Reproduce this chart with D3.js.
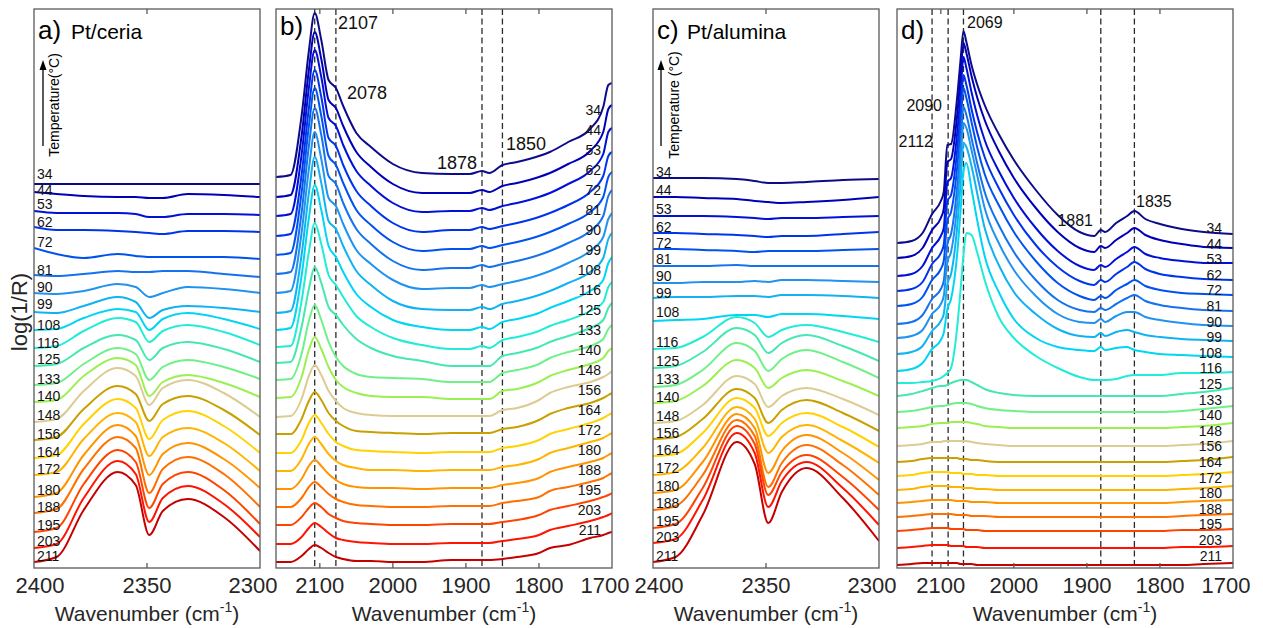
<!DOCTYPE html>
<html>
<head>
<meta charset="utf-8">
<script src="https://cdn.jsdelivr.net/npm/d3@7"></script>
<style>
  body { margin: 0; background: #fff; }
  svg { font-family: Arial, "Liberation Sans", sans-serif; }
</style>
</head>
<body>
<svg id="chart" width="1263" height="628"></svg>
<script>
// temperatures (°C), one spectrum each, top to bottom
const temps = [34, 44, 53, 62, 72, 81, 90, 99, 108, 116, 125, 133, 140, 148, 156, 164, 172, 180, 188, 195, 203, 211];
const colors = ['#0c0c8a', '#0000b8', '#0010d8', '#0034ec', '#0052f0', '#1472ee', '#2092f0', '#10b2f2', '#00d6f4', '#20ecd8',
  '#44e8b0', '#70f088', '#9af050', '#dccc94', '#c8a000', '#ffd200', '#ffb400', '#ff9400', '#ff7000', '#ff4400', '#ff1400', '#c40000'];

// CO2 region (panels a and c), offset log(1/R) values
const wnCO2 = [2400, 2390, 2378, 2363, 2355, 2349, 2343, 2332, 2316, 2300];
const ceriaCO2 = [
  [384, 384, 384, 384, 384, 384, 384, 384, 384, 384],
  [376, 374, 372, 371, 371, 370, 370, 374, 373, 371],
  [357, 355, 355, 355, 354, 351, 351, 354, 354, 353],
  [341, 338, 338, 337, 336, 335, 334, 337, 337, 336],
  [320, 314, 310, 314, 312, 311, 311, 311, 311, 309],
  [293, 292, 294, 297, 296, 296, 297, 297, 294, 291],
  [275, 274, 277, 284, 281, 271, 275, 281, 279, 275],
  [256, 255, 262, 271, 266, 250, 258, 262, 260, 256],
  [238, 239, 250, 259, 256, 238, 249, 255, 249, 239],
  [220, 222, 237, 250, 246, 226, 237, 243, 236, 223],
  [202, 204, 220, 233, 228, 208, 220, 226, 219, 206],
  [183, 185, 204, 220, 214, 188, 201, 208, 201, 189],
  [166, 168, 192, 210, 203, 172, 186, 193, 185, 171],
  [146, 149, 177, 200, 192, 163, 180, 188, 175, 151],
  [128, 131, 159, 182, 174, 147, 164, 172, 158, 133],
  [110, 113, 144, 169, 160, 129, 148, 157, 142, 115],
  [93, 96, 129, 155, 146, 112, 131, 140, 125, 97],
  [71, 75, 113, 143, 132, 93, 114, 125, 109, 80],
  [55, 59, 99, 131, 120, 75, 99, 111, 94, 61],
  [36, 40, 84, 118, 106, 60, 84, 96, 78, 44],
  [20, 24, 70, 107, 94, 46, 70, 82, 64, 31],
  [6, 11, 58, 96, 83, 33, 57, 69, 51, 17]
];
const aluminaCO2 = [
  [390, 390, 390, 389, 387, 385, 385, 386, 388, 389],
  [371, 371, 370, 369, 367, 366, 365, 366, 368, 371],
  [352, 352, 352, 351, 350, 349, 350, 350, 351, 352],
  [335, 335, 334, 333, 332, 331, 332, 332, 334, 336],
  [319, 319, 318, 317, 316, 317, 317, 317, 318, 319],
  [302, 302, 302, 303, 302, 302, 302, 302, 302, 302],
  [285, 285, 286, 286, 287, 286, 288, 288, 287, 286],
  [270, 271, 271, 272, 272, 271, 273, 273, 272, 270],
  [247, 248, 249, 253, 253, 251, 254, 254, 252, 249],
  [219, 220, 231, 251, 245, 231, 238, 243, 236, 226],
  [200, 202, 216, 240, 233, 215, 225, 233, 222, 207],
  [181, 183, 198, 225, 217, 197, 209, 218, 206, 190],
  [165, 167, 182, 208, 200, 180, 190, 198, 187, 172],
  [145, 147, 163, 192, 184, 161, 172, 180, 169, 153],
  [129, 131, 149, 179, 170, 145, 158, 168, 155, 137],
  [112, 114, 135, 170, 160, 132, 145, 155, 141, 121],
  [93, 96, 120, 161, 149, 115, 131, 143, 127, 105],
  [75, 78, 106, 154, 140, 95, 117, 133, 115, 88],
  [58, 62, 93, 148, 132, 81, 105, 123, 103, 73],
  [40, 44, 80, 142, 124, 73, 96, 113, 91, 58],
  [25, 29, 68, 135, 115, 61, 87, 106, 80, 43],
  [6, 11, 53, 126, 104, 45, 76, 100, 70, 27]
];

// CO region on Pt/ceria (panel b)
const wnCOb = [2160, 2140, 2125, 2115, 2107, 2098, 2088, 2078, 2068, 2050, 2030, 2000, 1960, 1920, 1895, 1878, 1868, 1850, 1830, 1800, 1785, 1760, 1730, 1712, 1705, 1700];
const ceriaCO = [
  [391, 393, 452, 517, 555, 528, 488, 480, 462, 435, 421, 404, 395, 394, 394, 397, 395, 403, 406, 412, 416, 426, 439, 461, 483, 485],
  [371, 373, 432, 498, 536, 509, 468, 460, 442, 416, 401, 384, 375, 375, 375, 378, 376, 382, 385, 391, 395, 404, 417, 436, 459, 463],
  [352, 354, 413, 480, 518, 491, 450, 442, 423, 397, 382, 365, 356, 357, 357, 360, 358, 362, 365, 371, 375, 384, 397, 414, 436, 440],
  [332, 334, 393, 460, 498, 471, 430, 422, 403, 377, 362, 345, 336, 338, 338, 341, 339, 342, 345, 351, 355, 363, 376, 392, 412, 416],
  [313, 315, 375, 442, 480, 452, 412, 403, 385, 358, 343, 326, 317, 319, 319, 322, 320, 323, 326, 332, 336, 344, 356, 371, 391, 396],
  [294, 296, 355, 422, 460, 433, 392, 384, 365, 339, 324, 307, 298, 300, 300, 303, 301, 304, 307, 313, 317, 325, 337, 352, 372, 378],
  [275, 277, 335, 399, 436, 409, 370, 362, 344, 318, 304, 288, 279, 280, 280, 283, 281, 284, 287, 293, 297, 305, 317, 331, 349, 355],
  [255, 257, 313, 375, 411, 385, 347, 339, 322, 297, 283, 267, 259, 258, 258, 261, 259, 264, 267, 273, 277, 285, 296, 310, 329, 335],
  [238, 240, 292, 350, 383, 358, 322, 311, 296, 274, 261, 248, 241, 238, 238, 241, 239, 246, 249, 255, 260, 267, 277, 288, 305, 311],
  [221, 222, 267, 316, 345, 324, 293, 283, 271, 252, 241, 230, 223, 219, 219, 222, 220, 228, 231, 237, 242, 248, 257, 266, 281, 286],
  [205, 206, 241, 279, 301, 285, 261, 253, 243, 229, 220, 212, 207, 202, 202, 202, 202, 212, 215, 221, 226, 232, 240, 248, 260, 265],
  [188, 189, 214, 247, 263, 248, 226, 211, 202, 194, 191, 190, 189, 186, 186, 186, 186, 195, 198, 204, 210, 216, 222, 229, 239, 243],
  [170, 171, 191, 218, 231, 219, 201, 188, 181, 175, 172, 171, 171, 169, 169, 169, 169, 177, 179, 186, 192, 198, 204, 210, 217, 220],
  [151, 152, 169, 192, 203, 193, 177, 167, 160, 155, 153, 152, 152, 152, 152, 152, 152, 158, 160, 168, 175, 181, 186, 191, 194, 197],
  [134, 134, 149, 167, 176, 168, 155, 147, 142, 137, 136, 135, 134, 135, 135, 135, 135, 139, 141, 148, 154, 160, 165, 170, 173, 175],
  [115, 115, 128, 145, 153, 145, 134, 126, 122, 118, 117, 116, 115, 116, 116, 116, 116, 120, 122, 128, 134, 139, 145, 150, 153, 155],
  [97, 97, 109, 124, 131, 124, 114, 107, 103, 100, 98, 98, 97, 98, 98, 98, 98, 101, 103, 109, 115, 120, 126, 130, 133, 135],
  [79, 79, 89, 102, 108, 102, 94, 88, 84, 81, 80, 80, 79, 80, 80, 80, 80, 83, 85, 90, 96, 101, 106, 110, 113, 115],
  [61, 61, 70, 81, 86, 81, 74, 69, 66, 63, 62, 61, 61, 62, 62, 62, 62, 65, 67, 71, 77, 81, 86, 90, 93, 95],
  [43, 43, 51, 60, 65, 61, 54, 50, 47, 45, 44, 43, 43, 44, 44, 44, 44, 46, 48, 53, 58, 62, 67, 71, 73, 75],
  [24, 24, 31, 40, 45, 41, 35, 30, 28, 26, 25, 24, 24, 25, 25, 25, 25, 27, 29, 33, 38, 42, 47, 51, 53, 55],
  [6, 6, 12, 19, 23, 20, 15, 11, 9, 7, 7, 6, 6, 8, 8, 8, 8, 9, 11, 15, 20, 23, 30, 33, 35, 36]
];

// CO region on Pt/alumina (panel d): stacking offsets + spectra
const wnCOd = [2160, 2140, 2125, 2112, 2100, 2096, 2091, 2086, 2078, 2073, 2069, 2065, 2058, 2050, 2040, 2020, 2000, 1970, 1940, 1910, 1890, 1881, 1875, 1860, 1845, 1835, 1820, 1800, 1770, 1740, 1700];
const aluminaOffsets = [325, 310, 292, 277, 262, 244, 230, 214, 197, 185, 172, 156, 140, 122, 106, 92, 78, 65, 51, 37, 20, 3];
const aluminaCO = [
  [0, 2, 10, 29, 42, 51, 98, 99, 143, 183, 212, 201, 178, 158, 138, 108, 83, 53, 28, 11, 7, 13, 11, 20, 27, 32, 24, 19, 14, 11, 9],
  [0, 2, 10, 28, 40, 49, 96, 99, 140, 182, 215, 205, 182, 160, 138, 106, 80, 50, 26, 10, 6, 12, 10, 18, 25, 30, 23, 18, 14, 11, 10],
  [0, 2, 10, 28, 40, 48, 94, 98, 140, 182, 219, 208, 184, 160, 136, 104, 78, 48, 25, 10, 6, 11, 9, 17, 24, 29, 22, 18, 15, 13, 13],
  [0, 2, 9, 27, 38, 46, 90, 96, 138, 180, 216, 206, 182, 158, 134, 102, 76, 46, 24, 10, 6, 11, 9, 17, 24, 29, 22, 17, 14, 12, 11],
  [0, 2, 9, 26, 37, 45, 86, 94, 136, 180, 218, 208, 184, 158, 132, 100, 74, 45, 23, 10, 6, 10, 8, 16, 22, 26, 20, 16, 13, 12, 11],
  [0, 2, 9, 25, 35, 43, 80, 90, 134, 178, 217, 209, 186, 160, 132, 98, 72, 44, 24, 14, 12, 16, 14, 20, 26, 29, 23, 19, 16, 14, 13],
  [0, 2, 8, 24, 34, 42, 76, 86, 130, 176, 215, 210, 188, 162, 130, 94, 68, 42, 24, 16, 15, 19, 16, 22, 26, 26, 21, 18, 15, 13, 12],
  [0, 2, 8, 23, 33, 40, 70, 80, 124, 170, 211, 207, 188, 160, 126, 88, 62, 40, 25, 18, 17, 21, 18, 22, 24, 22, 19, 17, 15, 14, 13],
  [0, 2, 8, 22, 31, 38, 62, 72, 114, 160, 200, 208, 182, 150, 115, 78, 52, 33, 24, 21, 20, 24, 21, 23, 24, 21, 19, 17, 16, 15, 14],
  [0, 0, 1, 2, 5, 7, 10, 15, 53, 93, 128, 150, 148, 130, 103, 65, 45, 27, 15, 6, 3, 3, 3, 4, 7, 8, 8, 8, 10, 10, 11],
  [0, 2, 5, 8, 10, 10, 11, 13, 15, 16, 16, 16, 14, 11, 7, 3, 1, 0, 0, 0, 0, 0, 0, 0, 0, 0, 0, 0, 2, 4, 8],
  [0, 1, 3, 5, 6, 6, 7, 8, 9, 9, 9, 9, 8, 6, 4, 2, 1, 0, 0, 0, 0, 0, 0, 0, 0, 0, 0, 0, 1, 3, 6],
  [0, 1, 2, 4, 5, 5, 5, 6, 6, 6, 6, 6, 5, 4, 2, 1, 0, 0, 0, 0, 0, 0, 0, 0, 0, 0, 0, 0, 1, 2, 5],
  [0, 1, 2, 4, 4, 5, 5, 5, 5, 5, 5, 5, 4, 3, 2, 1, 0, 0, 0, 0, 0, 0, 0, 0, 0, 0, 0, 0, 1, 2, 5],
  [0, 1, 3, 4, 4, 4, 4, 4, 4, 3, 3, 3, 2, 2, 1, 0, 0, 0, 0, 0, 0, 0, 0, 0, 0, 0, 0, 0, 1, 2, 5],
  [0, 1, 3, 4, 4, 4, 4, 3, 3, 3, 2, 2, 2, 1, 1, 0, 0, 0, 0, 0, 0, 0, 0, 0, 0, 0, 0, 0, 1, 2, 4],
  [0, 1, 3, 4, 4, 4, 4, 3, 3, 3, 2, 2, 2, 1, 1, 0, 0, 0, 0, 0, 0, 0, 0, 0, 0, 0, 0, 0, 1, 2, 4],
  [0, 1, 2, 3, 3, 3, 3, 3, 2, 2, 2, 2, 1, 1, 1, 0, 0, 0, 0, 0, 0, 0, 0, 0, 0, 0, 0, 0, 1, 2, 3],
  [0, 1, 2, 3, 3, 3, 3, 3, 2, 2, 2, 2, 1, 1, 1, 0, 0, 0, 0, 0, 0, 0, 0, 0, 0, 0, 0, 0, 1, 2, 3],
  [0, 1, 2, 3, 3, 3, 3, 2, 2, 2, 2, 1, 1, 1, 0, 0, 0, 0, 0, 0, 0, 0, 0, 0, 0, 0, 0, 0, 1, 1, 2],
  [0, 1, 2, 3, 3, 3, 3, 2, 2, 2, 2, 1, 1, 1, 0, 0, 0, 0, 0, 0, 0, 0, 0, 0, 0, 0, 0, 0, 1, 1, 2],
  [0, 1, 2, 2, 2, 2, 2, 2, 2, 1, 1, 1, 1, 0, 0, 0, 0, 0, 0, 0, 0, 0, 0, 0, 0, 0, 0, 0, 0, 1, 2]
];

const peaksCeria = [2107, 2078, 1878, 1850];
const peaksAlumina = [2112, 2090, 2069, 1881, 1835];
const ticksCO2 = [2400, 2350, 2300];
const ticksCO = [2100, 2000, 1900, 1800, 1700];

const plotTop = 9, plotBottom = 568;
const svg = d3.select('#chart');
const y = d3.scaleLinear().domain([0, 559]).range([plotBottom, plotTop]);

// label baselines (layout) for the left-labelled panels
const labelYa = [179, 195, 209, 227, 247, 275, 292, 309, 330, 348, 364, 384, 401, 420, 439, 457, 474, 495, 512, 530, 546, 561];
const labelYc = [177, 195, 214, 232, 248, 264, 281, 298, 317, 347, 366, 384, 402, 421, 438, 455, 473, 491, 508, 526, 542, 561];

const panels = [
  { key: 'a', left: 34, right: 260, domain: [2400, 2300], ticks: ticksCO2, wn: wnCO2, rows: ceriaCO2,
    labels: 'left', labelY: labelYa, title: 'a)', name: 'Pt/ceria', titleY: 39, nameX: 71, arrowX: 43, tempText: 'Temperature(°C)', tempX: 59 },
  { key: 'b', left: 276, right: 612, domain: [2160, 1700], ticks: ticksCO, wn: wnCOb, rows: ceriaCO,
    labels: 'right', title: 'b)', titleY: 35, peaks: peaksCeria,
    notes: [{ x: 338, y: 29, a: 'start' }, { x: 347, y: 99, a: 'start' }, { x: 437, y: 169, a: 'start' }, { x: 506, y: 150, a: 'start' }],
    noteSize: 18, labelTop: 115, labelStep: 20 },
  { key: 'c', left: 653, right: 879, domain: [2400, 2300], ticks: ticksCO2, wn: wnCO2, rows: aluminaCO2,
    labels: 'left', labelY: labelYc, title: 'c)', name: 'Pt/alumina', titleY: 39, nameX: 687, arrowX: 661, tempText: 'Temperature (°C)', tempX: 679 },
  { key: 'd', left: 897, right: 1233, domain: [2160, 1700], ticks: ticksCO, wn: wnCOd, rows: aluminaCO, offsets: aluminaOffsets,
    labels: 'right', title: 'd)', titleY: 39, peaks: peaksAlumina,
    notes: [{ x: 933, y: 147, a: 'end' }, { x: 942, y: 111, a: 'end' }, { x: 967, y: 28, a: 'start' }, { x: 1093, y: 226, a: 'end' }, { x: 1136, y: 207, a: 'start' }],
    noteSize: 16, labelTop: 233, labelStep: 15.6 }
];

panels.forEach((p) => {
  const x = d3.scaleLinear().domain(p.domain).range([p.left, p.right]);
  const g = svg.append('g').attr('class', 'panel-' + p.key);

  g.append('clipPath').attr('id', 'clip-' + p.key)
    .append('rect').attr('x', p.left).attr('y', plotTop).attr('width', p.right - p.left).attr('height', plotBottom - plotTop);

  // dashed peak markers
  if (p.peaks) {
    g.selectAll('line.peak').data(p.peaks).join('line')
      .attr('class', 'peak')
      .attr('x1', (d) => x(d)).attr('x2', (d) => x(d))
      .attr('y1', plotTop).attr('y2', plotBottom)
      .attr('stroke', '#2b2b2b').attr('stroke-width', 1.3).attr('stroke-dasharray', '6,3.5');
  }

  // spectra
  const line = d3.line()
    .x((d) => x(d[0]))
    .y((d) => y(d[1]))
    .curve(d3.curveMonotoneX);

  const series = p.rows.map((row, i) => row.map((v, j) => [p.wn[j], v + (p.offsets ? p.offsets[i] : 0)]));

  g.append('g').attr('clip-path', `url(#clip-${p.key})`)
    .selectAll('path').data(series).join('path')
    .attr('d', line)
    .attr('fill', 'none')
    .attr('stroke', (d, i) => colors[i])
    .attr('stroke-width', 2);

  // temperature labels
  const lab = g.append('g').attr('font-size', 14).attr('fill', '#111');
  if (p.labels === 'left') {
    lab.selectAll('text').data(temps).join('text')
      .attr('x', p.left + 3)
      .attr('y', (d, i) => p.labelY[i])
      .text((d) => d);
  } else {
    lab.selectAll('text').data(temps).join('text')
      .attr('x', p.right - 11)
      .attr('text-anchor', 'end')
      .attr('y', (d, i) => p.labelTop + i * p.labelStep)
      .text((d) => d);
  }

  // peak annotations
  if (p.notes) {
    g.selectAll('text.note').data(p.peaks).join('text')
      .attr('class', 'note')
      .attr('x', (d, i) => p.notes[i].x)
      .attr('y', (d, i) => p.notes[i].y)
      .attr('text-anchor', (d, i) => p.notes[i].a)
      .attr('font-size', p.noteSize)
      .attr('fill', '#111')
      .text((d) => d);
  }

  // frame and ticks
  g.append('rect')
    .attr('x', p.left).attr('y', plotTop)
    .attr('width', p.right - p.left).attr('height', plotBottom - plotTop)
    .attr('fill', 'none').attr('stroke', '#5a5a5a').attr('stroke-width', 1.3);

  const inner = p.ticks.filter((t) => x(t) > p.left + 1 && x(t) < p.right - 1);
  g.selectAll('line.tb').data(inner).join('line')
    .attr('class', 'tb')
    .attr('x1', (d) => x(d)).attr('x2', (d) => x(d))
    .attr('y1', plotBottom).attr('y2', plotBottom - 5)
    .attr('stroke', '#5a5a5a').attr('stroke-width', 1.3);
  g.selectAll('line.tt').data(inner).join('line')
    .attr('class', 'tt')
    .attr('x1', (d) => x(d)).attr('x2', (d) => x(d))
    .attr('y1', plotTop).attr('y2', plotTop + 5)
    .attr('stroke', '#5a5a5a').attr('stroke-width', 1.3);

  const tickLabelX = (d) => {
    const px = x(d);
    if (px <= p.left + 1) return px + 6;
    if (px >= p.right - 1) return px - 7;
    return px;
  };
  g.selectAll('text.tick').data(p.ticks).join('text')
    .attr('class', 'tick')
    .attr('x', tickLabelX)
    .attr('y', 593)
    .attr('text-anchor', 'middle')
    .attr('font-size', 22)
    .attr('fill', '#262626')
    .text((d) => d);

  const title = g.append('text')
    .attr('x', (p.left + p.right) / 2)
    .attr('y', 621)
    .attr('text-anchor', 'middle')
    .attr('font-size', 21)
    .attr('fill', '#262626');
  title.append('tspan').text('Wavenumber (cm');
  title.append('tspan').attr('font-size', 14).attr('dy', -9).text('-1');
  title.append('tspan').attr('dy', 9).text(')');

  // panel letter and name
  g.append('text').attr('x', p.left + 4).attr('y', p.titleY)
    .attr('font-size', 26).attr('fill', '#000').text(p.title);
  if (p.name) {
    g.append('text').attr('x', p.nameX).attr('y', p.titleY)
      .attr('font-size', 21).attr('fill', '#000').text(p.name);
  }

  // temperature arrow
  if (p.arrowX) {
    g.append('line')
      .attr('x1', p.arrowX).attr('x2', p.arrowX)
      .attr('y1', 146).attr('y2', 68)
      .attr('stroke', '#000').attr('stroke-width', 1.3);
    g.append('path')
      .attr('d', `M${p.arrowX - 3.5},70 L${p.arrowX},60 L${p.arrowX + 3.5},70 Z`)
      .attr('fill', '#000');
    g.append('text')
      .attr('transform', `translate(${p.tempX},105) rotate(-90)`)
      .attr('text-anchor', 'middle')
      .attr('font-size', 14)
      .attr('fill', '#000')
      .text(p.tempText);
  }
});

// shared y label
svg.append('text')
  .attr('transform', 'translate(27,312) rotate(-90)')
  .attr('text-anchor', 'middle')
  .attr('font-size', 22)
  .attr('fill', '#262626')
  .text('log(1/R)');
</script>
</body>
</html>
